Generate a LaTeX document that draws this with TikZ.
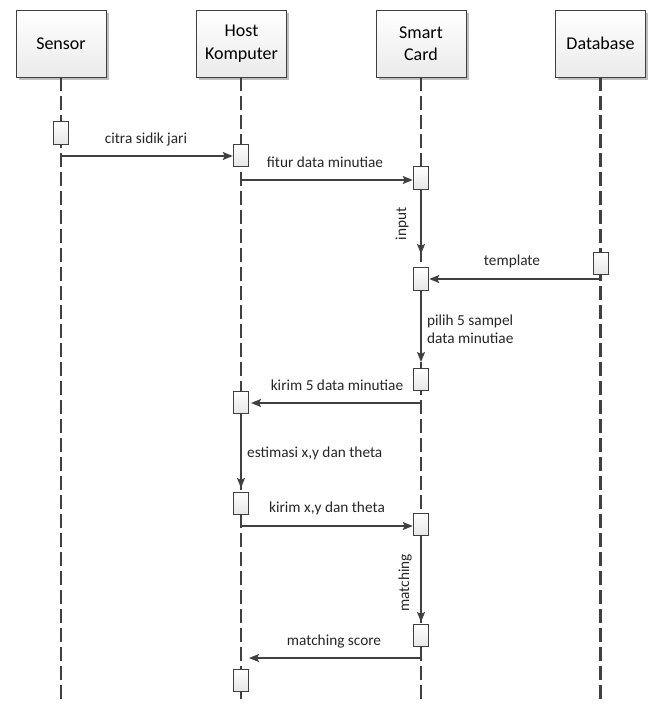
\documentclass[tikz,border=0pt]{standalone}
\usepackage{fontspec}
\setmainfont{Carlito}
\usetikzlibrary{arrows.meta,shadows}
\definecolor{ln}{HTML}{404040}
\begin{document}
\begin{tikzpicture}[x=1pt,y=-1pt,
  head/.style={draw=ln,line width=0.9pt,top color=white,bottom color=black!8,
    minimum width=90pt,minimum height=67pt,inner sep=0pt,align=center,
    font=\fontsize{18}{22.5}\selectfont,
    drop shadow={shadow xshift=2.5pt,shadow yshift=-2.5pt,fill=black!25,opacity=1}},
  act/.style={draw=ln,line width=1pt,top color=white,bottom color=black!10,
    minimum width=15.5pt,minimum height=22.5pt,inner sep=0pt},
  life/.style={draw=ln,line width=2.8pt,dash pattern=on 13.5pt off 5.5pt},
  msg/.style={draw=ln,line width=1.6pt,-{Stealth[length=10pt,width=8pt,inset=2pt]}},
  lbl/.style={font=\fontsize{15.3}{18}\selectfont,inner sep=0pt,text=black!85}]
\useasboundingbox (0,0) rectangle (656,704);
% lifelines
\coordinate (sb) at (61,703); \coordinate (hb) at (241,703);
\coordinate (cb) at (421,703); \coordinate (db) at (600.5,703);
\node[head] (S) at (61,43.5) {Sensor};
\node[head] (H) at (241.5,43.5) {Host\\Komputer};
\node[head] (C) at (421,43.5) {Smart\\Card};
\node[head] (D) at (600.5,43.5) {Database};
\draw[life] (S.south -| sb) -- (sb);
\draw[life] (H.south -| hb) -- (hb);
\draw[life] (C.south -| cb) -- (cb);
\draw[life] (D.south -| db) -- (db);
% activations
\node[act] (S1) at (61,133) {};
\node[act] (H1) at (241,155.5) {};
\node[act] (C1) at (421,178) {};
\node[act] (D1) at (601,263.5) {};
\node[act] (C2) at (421,279) {};
\node[act] (C3) at (421,379.5) {};
\node[act] (H2) at (241,402.5) {};
\node[act] (H3) at (241,503.5) {};
\node[act] (C4) at (421,524.5) {};
\node[act] (C5) at (421,635.5) {};
\node[act] (H4) at (241,680.5) {};
% message points
\coordinate (m1) at (61,156);
\coordinate (m2) at (241,180);
\coordinate (m3) at (421,254);
\coordinate (m4) at (600.5,279);
\coordinate (m5) at (421,362);
\coordinate (m6s) at (421,403); \coordinate (m6e) at (251,403);
\coordinate (m7) at (241,488);
\coordinate (m8) at (241,526);
\coordinate (m9) at (421,622);
\coordinate (m10s) at (421,658); \coordinate (m10e) at (249,658);
% messages
\draw[msg] (m1) -- (H1.west |- m1);
\draw[msg] (m2) -- (C1.west |- m2);
\draw[msg] (C1.south) -- (m3);
\draw[msg] (m4) -- (C2.east |- m4);
\draw[msg] (C2.south) -- (m5);
\draw[msg] (m6s) -- (m6e);
\draw[msg] (H2.south) -- (m7);
\draw[msg] (m8) -- (C4.west |- m8);
\draw[msg] (C4.south) -- (m9);
\draw[msg] (m10s) -- (m10e);
% labels
\node[lbl] (l1) at (146,139) {citra sidik jari};
\node[lbl] (l2) at (325,162) {fitur data minutiae};
\node[lbl,rotate=90] (l3) at (402,224) {input};
\node[lbl] (l4) at (512,261) {template};
\node[lbl,anchor=west,align=left] (l5) at (427,329) {pilih 5 sampel\\data minutiae};
\node[lbl] (l6) at (337,385) {kirim 5 data minutiae};
\node[lbl,anchor=west] (l7) at (247,453) {estimasi x,y dan theta};
\node[lbl] (l8) at (327,508) {kirim x,y dan theta};
\node[lbl,rotate=90] (l9) at (405,583) {matching};
\node[lbl] (l10) at (334,641) {matching score};
\end{tikzpicture}
\end{document}
